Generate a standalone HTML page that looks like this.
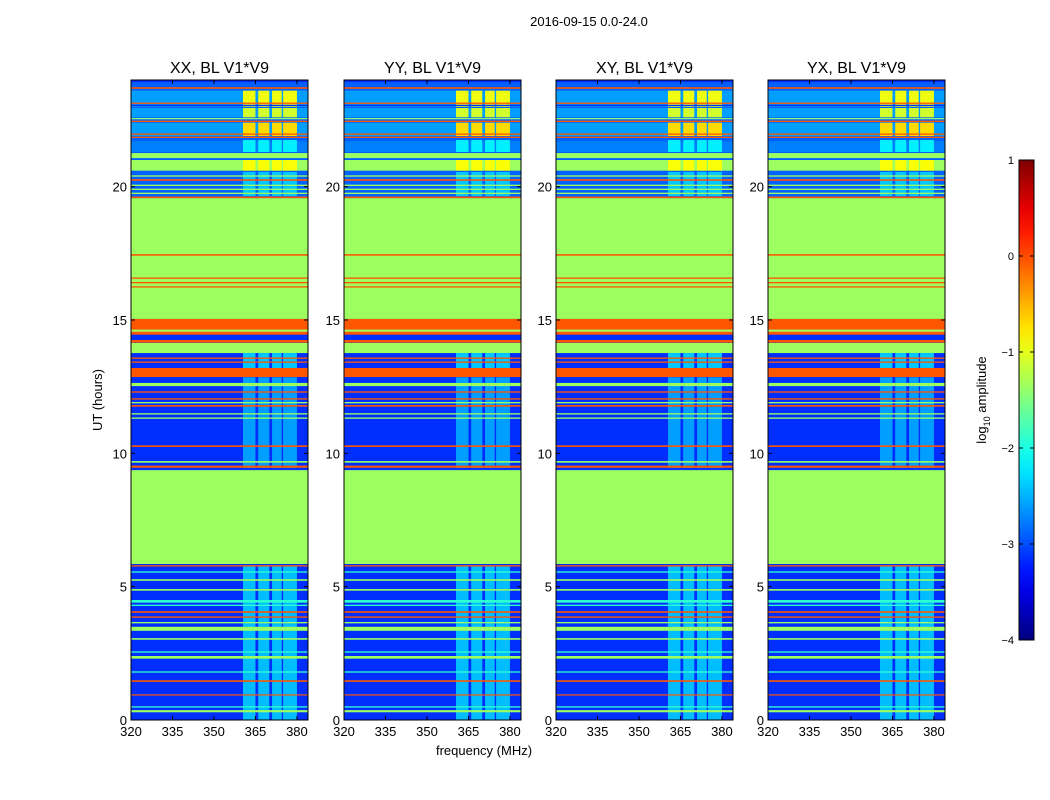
<!DOCTYPE html>
<html><head><meta charset="utf-8">
<style>
body{margin:0;background:#fff;font-family:"Liberation Sans",sans-serif;}
svg{display:block}
</style></head>
<body>
<svg id="fig" width="1050" height="800" xmlns="http://www.w3.org/2000/svg" font-family="Liberation Sans, sans-serif">
<text x="589" y="26" font-size="13" text-anchor="middle">2016-09-15 0.0-24.0</text>
<text x="484" y="755" font-size="13" text-anchor="middle">frequency (MHz)</text>
<text x="102" y="400" font-size="13" text-anchor="middle" transform="rotate(-90 102 400)">UT (hours)</text>
<g id="panels"></g>
<g id="cbar"></g>
</svg>
<script>
const panelTitles = ["XX, BL V1*V9","YY, BL V1*V9","XY, BL V1*V9","YX, BL V1*V9"];
const xTicks = [320,335,350,365,380];
const yTicks = [0,5,10,15,20];
const cbarTicks = [1,0,-1,-2,-3,-4];
// full-width background bands: [tStart, tEnd, log10 amplitude]
const bands = [
 [0,24,-3.15],
 [5.85,9.37,-1.35],
 [15.04,19.57,-1.35],
 [14.45,15.04,-0.05],
 [13.76,14.14,-1.35],
 [12.86,13.2,-0.05],
 [19.6,24,-2.9],
 [23.0,23.6,-2.6],[22.6,22.95,-2.6],[21.9,22.4,-2.6],[21.3,21.7,-2.75],
 [21.07,21.26,-1.35],[20.6,21.0,-1.35],[23.92,24,-3.15]
];
// RFI frequency columns [fStart, fEnd] in MHz
const rfiCols = [[360.5,365],[366,370],[371,374.5],[375,380]];
// RFI intensity per time range: [tStart, tEnd, level]
const rfiBands = [
 [0,5.8,-2.45],[9.45,12.85,-2.6],[13.2,13.76,-2.4],
 [23.0,23.6,-0.95],[22.6,22.95,-1.1],[21.9,22.4,-0.7],[21.3,21.75,-2.2],
 [20.6,21.0,-0.9],[19.65,20.55,-2.4]
];
// thin horizontal lines: [t, thickness(h), level]
const lines = [
 [5.78,0.05,-0.05],[5.55,0.05,-1.9],[5.25,0.06,-1.35],[4.88,0.06,-1.35],[4.45,0.1,-1.9],[4.3,0.05,-1.9],
 [4.05,0.06,-0.05],[3.86,0.05,-0.05],[3.65,0.05,-1.35],[3.42,0.15,-1.35],[3.04,0.06,-1.35],
 [2.55,0.05,-1.9],[2.35,0.1,-1.35],[1.8,0.05,-1.9],[1.46,0.06,-0.05],[0.94,0.04,-0.05],
 [0.49,0.05,-1.9],[0.33,0.08,-1.35],
 [9.5,0.08,-0.05],[9.68,0.06,-1.35],[10.27,0.06,-0.05],[11.32,0.05,-1.35],[11.48,0.05,-1.35],
 [11.78,0.06,-0.05],[11.9,0.05,-1.35],[12.04,0.05,-0.05],[12.3,0.05,-0.05],
 [12.58,0.12,-1.35],[13.42,0.05,-0.05],[13.57,0.05,-0.05],[14.2,0.1,-0.05],
 [14.6,0.08,-1.35],[16.24,0.05,-0.05],[16.4,0.05,-0.05],[16.57,0.05,-0.05],[17.44,0.06,-0.05],
 [19.6,0.06,-0.05],[19.75,0.05,-1.35],[19.9,0.05,-1.35],[20.05,0.05,-1.35],[20.25,0.06,-0.05],[20.4,0.05,-1.35],
 [21.97,0.05,-0.05],[21.85,0.05,-0.05],[22.45,0.05,-0.05],[22.55,0.04,-1.35],[23.13,0.05,-0.05],
 [23.05,0.04,-3.2],[23.7,0.06,-0.05]
];
const NS="http://www.w3.org/2000/svg";
function jet(v){const x=Math.max(0,Math.min(1,(v+4)/5));
 const c=t=>Math.round(255*Math.max(0,Math.min(1,t)));
 return `rgb(${c(Math.min(4*x-1.5,-4*x+4.5))},${c(Math.min(4*x-0.5,-4*x+3.5))},${c(Math.min(4*x+0.5,-4*x+2.5))})`;}
function mk(tag,attrs,parent){const e=document.createElementNS(NS,tag);for(const k in attrs)e.setAttribute(k,attrs[k]);parent.appendChild(e);return e;}
const P0=[131,344,556,768],PW=177,PT=80,PB=720;
const gp=document.getElementById('panels');
panelTitles.forEach((title,i)=>{
 const x0=P0[i];
 const fx=f=>x0+(f-320)*PW/64;
 const ty=t=>PB-t*(PB-PT)/24;
 const g=mk('g',{},gp);
 
 
 const hm=mk('g',{},g);
 
 
 bands.forEach(b=>{const r=mk('rect',{x:fx(320),y:ty(b[1]),width:fx(384)-fx(320),height:ty(b[0])-ty(b[1]),fill:jet(b[2])},hm);
  });
 rfiBands.forEach(b=>rfiCols.forEach(c=>{const r=mk('rect',{x:fx(c[0]),y:ty(b[1]),width:fx(c[1])-fx(c[0]),height:ty(b[0])-ty(b[1]),fill:jet(b[2])},hm);
  }));
 lines.forEach(l=>{const h=Math.max(1.2,ty(0)-ty(l[1]));const r=mk('rect',{x:fx(320),y:ty(l[0])-h/2,width:fx(384)-fx(320),height:h,fill:jet(l[2])},hm);
  });
 const fr=mk('rect',{x:x0,y:PT,width:PW,height:PB-PT,fill:'none',stroke:'#000','stroke-width':1},g);
 
 const tt=mk('text',{x:x0+PW/2,y:73,'font-size':16,'text-anchor':'middle'},g);tt.textContent=title;
 
 xTicks.forEach(f=>{mk('line',{x1:fx(f),x2:fx(f),y1:PB,y2:PB-4,stroke:'#000'},g);mk('line',{x1:fx(f),x2:fx(f),y1:PT,y2:PT+4,stroke:'#000'},g);
  const t=mk('text',{x:fx(f),y:PB+16,'font-size':13,'text-anchor':'middle'},g);t.textContent=f;
  });
 yTicks.forEach(v=>{mk('line',{x1:x0,x2:x0+4,y1:ty(v),y2:ty(v),stroke:'#000'},g);mk('line',{x1:x0+PW,x2:x0+PW-4,y1:ty(v),y2:ty(v),stroke:'#000'},g);
  const t=mk('text',{x:x0-4,y:ty(v)+5,'font-size':13,'text-anchor':'end'},g);t.textContent=v;
  });
});
// colorbar
const cb=document.getElementById('cbar');
const CX=1019,CW=15,CT=160,CB=640;
const cy=v=>CB-(v+4)*(CB-CT)/5;
const defs=mk('defs',{},cb);const lg=mk('linearGradient',{id:'jetg',x1:0,y1:1,x2:0,y2:0},defs);
for(let k=0;k<=20;k++){mk('stop',{offset:k/20,'stop-color':jet(-4+5*k/20)},lg);}
const cr=mk('rect',{x:CX,y:CT,width:CW,height:CB-CT,fill:'url(#jetg)',stroke:'#000'},cb);

cbarTicks.forEach(v=>{mk('line',{x1:CX,x2:CX+4,y1:cy(v),y2:cy(v),stroke:'#000'},cb);mk('line',{x1:CX+CW,x2:CX+CW-4,y1:cy(v),y2:cy(v),stroke:'#000'},cb);
 const t=mk('text',{x:CX-5,y:cy(v)+4,'font-size':11,'text-anchor':'end'},cb);t.textContent=v<0?'\u2212'+(-v):String(v);
 });
const cl=mk('text',{x:986,y:400,'font-size':13,'text-anchor':'middle',transform:'rotate(-90 986 400)'},cb);
cl.innerHTML='log<tspan font-size="9" dy="4">10</tspan><tspan dy="-4"> amplitude</tspan>';

</script>
</body></html>
